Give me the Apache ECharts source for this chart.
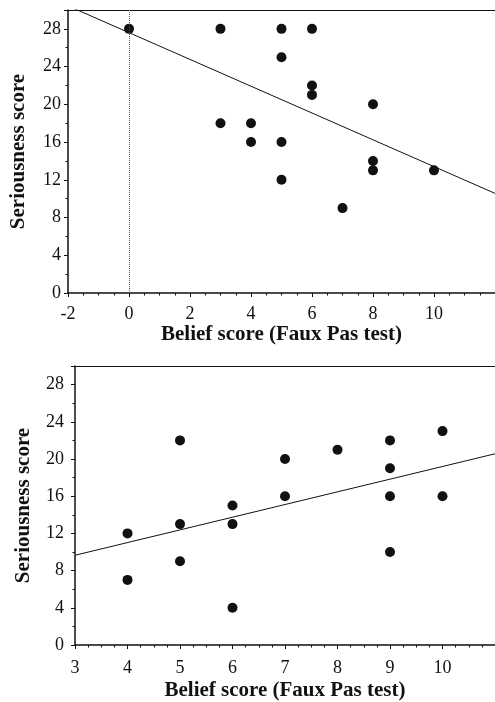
<!DOCTYPE html>
<html lang="en">
    <head>
        <meta charset="UTF-8" />
        <script type="text/javascript" src="https://cdn.jsdelivr.net/npm/echarts@6/dist/echarts.min.js"></script>
        <title>Belief vs seriousness</title>
        <style type="text/css">
            html, body { margin: 0; padding: 0; background: #fff; }
            #chart { width: 495px; height: 702px; }
        </style>
    </head>
    <body>
        <div id="chart"></div>
        <script type="text/javascript">
            // top panel
            let topBelief = [0, 3, 5, 6, 5, 6, 6, 8, 3, 4, 4, 5, 8, 8, 10, 5, 7];
            let topSerious = [28, 28, 28, 28, 25, 22, 21, 20, 18, 18, 16, 16, 14, 13, 13, 12, 9];
            let topFitX = [-2, 12];
            let topFitY = [30.44, 10.56];

            // bottom panel
            let botBelief = [4, 4, 5, 5, 5, 6, 6, 6, 7, 7, 8, 9, 9, 9, 9, 10, 10];
            let botSerious = [12, 7, 22, 13, 9, 15, 13, 4, 20, 16, 21, 22, 19, 16, 10, 23, 16];
            let botFitX = [3, 11];
            let botFitY = [9.65, 20.56];

            let yName = "Seriousness score";
            let xName = "Belief score (Faux Pas test)";

            let chart = echarts.init(document.getElementById("chart"));
            let serif = "Liberation Serif";

            function pairs(xs, ys) {
                return xs.map((x, i) => [x, ys[i]]);
            }

            function xAxisFor(gridIndex, min, max, nameGap, margin) {
                return {
                    type: "value",
                    gridIndex: gridIndex,
                    min: min,
                    max: max,
                    interval: min === -2 ? 2 : 1,
                    name: xName,
                    nameLocation: "middle",
                    nameGap: nameGap,
                    nameTextStyle: { fontFamily: serif, fontWeight: "bold", fontSize: 21, color: "#111" },
                    axisLine: { onZero: false, lineStyle: { color: "#111", width: 1.5 } },
                    axisTick: { length: 4, lineStyle: { color: "#111" } },
                    minorTick: { show: true, splitNumber: 4, length: 2.5, lineStyle: { color: "#111" } },
                    axisLabel: { fontFamily: serif, fontSize: 18, color: "#111", margin: margin, showMaxLabel: false },
                    splitLine: { show: false },
                };
            }

            function topBorder(gridIndex, min, max) {
                return {
                    type: "value",
                    gridIndex: gridIndex,
                    position: "top",
                    min: min,
                    max: max,
                    axisLine: { onZero: false, lineStyle: { color: "#111", width: 1 } },
                    axisTick: { show: false },
                    axisLabel: { show: false },
                    splitLine: { show: false },
                };
            }

            function yAxisFor(gridIndex, nameGap, margin) {
                return {
                    type: "value",
                    gridIndex: gridIndex,
                    min: 0,
                    max: 30,
                    interval: 4,
                    name: yName,
                    nameLocation: "middle",
                    nameGap: nameGap,
                    nameTextStyle: { fontFamily: serif, fontWeight: "bold", fontSize: 21, color: "#111" },
                    axisLine: { onZero: false, lineStyle: { color: "#111", width: 1.5 } },
                    axisTick: { length: 4, lineStyle: { color: "#111" } },
                    minorTick: { show: true, splitNumber: 2, length: 2.5, lineStyle: { color: "#111" } },
                    axisLabel: { fontFamily: serif, fontSize: 18, color: "#111", margin: margin, showMaxLabel: false },
                    splitLine: { show: false },
                };
            }

            let dot = { color: "#111", opacity: 1 };
            let fitLine = { color: "#111", width: 1 };

            let option = {
                animation: false,
                grid: [
                    { left: 68, top: 10, right: -1, height: 283 },
                    { left: 75, top: 366, right: -6, height: 282 },
                ],
                xAxis: [
                    xAxisFor(0, -2, 12, 31, 12),
                    xAxisFor(1, 3, 11, 35, 14),
                    topBorder(0, -2, 12),
                    topBorder(1, 3, 11),
                ],
                yAxis: [yAxisFor(0, 39, 7), yAxisFor(1, 41, 11)],
                series: [
                    {
                        type: "scatter",
                        xAxisIndex: 0,
                        yAxisIndex: 0,
                        symbolSize: 10,
                        itemStyle: dot,
                        data: pairs(topBelief, topSerious),
                        markLine: {
                            silent: true,
                            symbol: "none",
                            label: { show: false },
                            lineStyle: { color: "#555", type: "dotted", width: 1 },
                            data: [{ xAxis: 0 }],
                        },
                    },
                    {
                        type: "line",
                        xAxisIndex: 0,
                        yAxisIndex: 0,
                        symbol: "none",
                        clip: true,
                        lineStyle: fitLine,
                        data: pairs(topFitX, topFitY),
                    },
                    {
                        type: "scatter",
                        xAxisIndex: 1,
                        yAxisIndex: 1,
                        symbolSize: 10,
                        itemStyle: dot,
                        data: pairs(botBelief, botSerious),
                    },
                    {
                        type: "line",
                        xAxisIndex: 1,
                        yAxisIndex: 1,
                        symbol: "none",
                        clip: true,
                        lineStyle: fitLine,
                        data: pairs(botFitX, botFitY),
                    },
                ],
            };
            chart.setOption(option);
        </script>
    </body>
</html>
